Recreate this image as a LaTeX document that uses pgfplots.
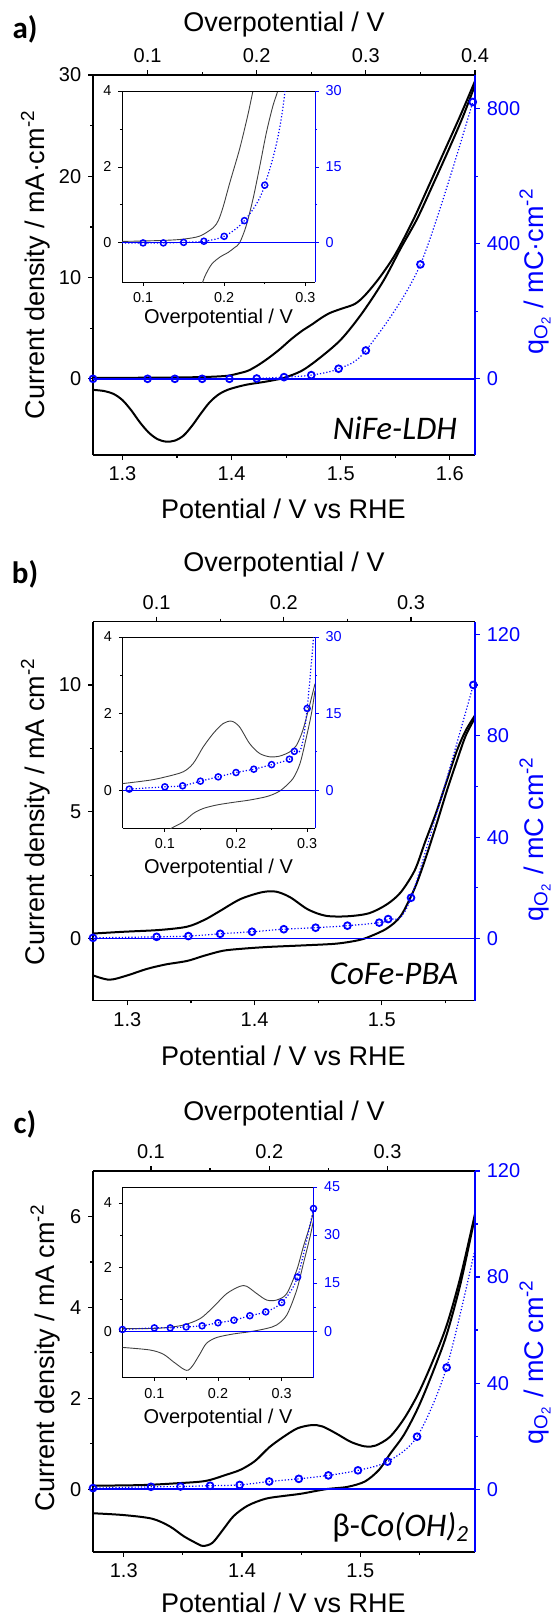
\documentclass[border=0pt]{standalone}
\usepackage{fontspec}
\setmainfont{Liberation Sans}
\newfontfamily\carlito{Carlito}
\usepackage{pgfplots}
\pgfplotsset{compat=1.18}
\pgfplotsset{
 common/.style={scale only axis, width=191pt, scaled ticks=false, /pgf/number format/assume math mode=true,
   tick align=outside, minor x tick num=1, minor y tick num=1, major tick length=2.4pt, minor tick length=1.4pt,
   tick label style={font=\fontsize{10}{12}\selectfont}, clip=true},
 mainax/.style={common, axis x line*=bottom, axis y line*=left, axis line style={line width=0.75pt},
   every tick/.append style={black, line width=0.6pt}, xtick={1.3,1.4,1.5,1.6}},
 secax/.style={common, axis x line*=top, axis y line*=right, x axis line style={black, line width=0.75pt},
   y axis line style={blue, line width=0.75pt}, xtick style={black,line width=0.6pt}, ytick style={blue,line width=0.6pt},
   yticklabel style={blue}},
 incommon/.style={scale only axis, scaled ticks=false, /pgf/number format/assume math mode=true,
   tick align=outside, minor x tick num=1, minor y tick num=1, major tick length=1.8pt, minor tick length=1.1pt,
   tick label style={font=\fontsize{7.2}{8.5}\selectfont}, clip=true, xtick={0.1,0.2,0.3}},
 inmain/.style={incommon, axis x line*=bottom, axis y line*=left, axis line style={line width=0.5pt},
   every tick/.append style={black,line width=0.45pt}, ytick={0,2,4}},
 insec/.style={incommon, axis x line*=top, axis y line*=right, xtick=\empty, x axis line style={black,line width=0.5pt},
   y axis line style={blue,line width=0.5pt}, ytick style={blue,line width=0.45pt}, yticklabel style={blue}},
 curve/.style={black, line width=1pt, smooth, no marks},
 incurve/.style={black!75, line width=0.45pt, smooth, no marks},
 qline/.style={blue, densely dotted, line width=0.6pt, smooth, no marks},
 qmarks/.style={blue, only marks, mark=o, mark size=1.7pt, mark options={solid, line width=0.9pt}},
 qmarksin/.style={blue, only marks, mark=o, mark size=1.5pt, mark options={solid, line width=0.75pt}},
 zline/.style={blue, line width=0.8pt, no marks},
 zlinein/.style={blue, line width=0.45pt, no marks},
}
\newcommand{\qlabel}[1]{q\textsubscript{O\textsubscript{2}} / mC#1cm\textsuperscript{-2}}
\tikzset{lab/.style={font=\fontsize{13.5}{16}\selectfont, inner sep=0pt},
  inlab/.style={font=\fontsize{10}{12}\selectfont, inner sep=0pt},
  plab/.style={font=\carlito\bfseries\fontsize{15.5}{18}\selectfont},
  sname/.style={font=\carlito\itshape\fontsize{16.5}{18}\selectfont}}
\begin{document}
\begin{tikzpicture}
\path[use as bounding box] (0,0) rectangle (278pt,-809pt);
%================ Panel a
\node[plab] at (12.5pt,-14.5pt) {a)};
\node[lab] at (142pt,-12.5pt) {Overpotential / V};
\node[lab] at (141.7pt,-254.3pt) {Potential / V vs RHE};
\node[lab, rotate=90] at (17.75pt,-132.3pt) {Current density / mA·cm\textsuperscript{-2}};
\node[lab, rotate=90, blue] at (267.5pt,-135.75pt) {\qlabel{·}};
\node[inlab] at (109.25pt,-159pt) {Overpotential / V};
\begin{axis}[mainax, at={(46.5pt,-37.5pt)}, anchor=north west, height=190pt,
  xmin=1.273, xmax=1.623, ymin=-7.52, ymax=30, ytick={0,10,20,30}]
\addplot[curve] coordinates {(1.273,0.1)(1.30,0.1)(1.33,0.12)(1.36,0.15)(1.38,0.2)(1.396,0.3)(1.405,0.5)(1.415,0.8)(1.425,1.4)(1.435,2.15)(1.445,3.0)(1.454,3.86)(1.464,4.7)(1.474,5.4)(1.482,6.0)(1.49,6.5)(1.50,6.9)(1.513,7.4)(1.5226,8.3)(1.5356,10.0)(1.55,12.3)(1.566,15.6)(1.58,18.9)(1.595,22.5)(1.61,26.1)(1.623,29.4)};
\addplot[curve] coordinates {(1.273,-1.09)(1.283,-1.2)(1.292,-1.5)(1.30,-2.1)(1.308,-3.1)(1.316,-4.3)(1.324,-5.3)(1.332,-5.95)(1.34,-6.2)(1.348,-6.1)(1.356,-5.6)(1.364,-4.6)(1.372,-3.4)(1.38,-2.3)(1.388,-1.55)(1.396,-1.1)(1.405,-0.8)(1.415,-0.55)(1.43,-0.3)(1.44,-0.1)(1.448,0.1)(1.464,0.78)(1.48,2.0)(1.50,3.86)(1.519,6.4)(1.539,9.66)(1.555,12.9)(1.570,15.8)(1.585,19.3)(1.60,22.9)(1.612,25.9)(1.623,29.0)};
\end{axis}
\begin{axis}[secax, at={(46.5pt,-37.5pt)}, anchor=north west, height=190pt,
  xmin=0.05, xmax=0.4, ymin=-225.6, ymax=900, xtick={0.1,0.2,0.3,0.4}, ytick={0,400,800}]
\addplot[zline] coordinates {(0,0)(1,0)};
\addplot[qline] coordinates {(0.05,0)(0.1,0)(0.125,0)(0.15,0)(0.175,0)(0.2,1)(0.225,5)(0.25,11)(0.275,30)(0.3,84)(0.35,339)(0.398,820)};
\addplot[qmarks] coordinates {(0.05,0)(0.1,0)(0.125,0)(0.15,0)(0.175,0)(0.2,1)(0.225,5)(0.25,11)(0.275,30)(0.3,84)(0.35,339)(0.398,820)};
\end{axis}
\begin{axis}[inmain, at={(61pt,-45.5pt)}, anchor=north west, width=96.5pt, height=95.5pt,
  xmin=0.074, xmax=0.312, ymin=-1.03, ymax=4]
\addplot[incurve] coordinates {(0.05,0.04)(0.074,0.04)(0.10,0.05)(0.13,0.07)(0.15,0.1)(0.17,0.18)(0.1865,0.4)(0.193,0.6)(0.199,0.97)(0.207,1.59)(0.219,2.47)(0.229,3.35)(0.2355,4.0)(0.24,4.4)};
\addplot[incurve] coordinates {(0.168,-1.4)(0.174,-1.0)(0.178,-0.8)(0.185,-0.55)(0.195,-0.37)(0.205,-0.25)(0.213,-0.12)(0.219,0.0)(0.227,0.44)(0.2355,1.15)(0.244,2.03)(0.252,2.9)(0.26,3.6)(0.266,4.0)(0.27,4.4)};
\end{axis}
\begin{axis}[insec, at={(61pt,-45.5pt)}, anchor=north west, width=96.5pt, height=95.5pt,
  xmin=0.074, xmax=0.312, ymin=-7.72, ymax=30, ytick={0,15,30}]
\addplot[zlinein] coordinates {(0,0)(1,0)};
\addplot[qline] coordinates {(0.05,0)(0.1,0)(0.125,0)(0.15,0.1)(0.175,0.33)(0.2,1.3)(0.225,4.4)(0.25,11.4)(0.275,30)(0.3,84)};
\addplot[qmarksin] coordinates {(0.1,0)(0.125,0)(0.15,0.1)(0.175,0.33)(0.2,1.3)(0.225,4.4)(0.25,11.4)};
\end{axis}
\node[sname] at (197.5pt,-214pt) {NiFe-LDH};
%================ Panel b
\node[plab] at (12.5pt,-287pt) {b)};
\node[lab] at (142pt,-282.25pt) {Overpotential / V};
\node[lab] at (141.7pt,-527.75pt) {Potential / V vs RHE};
\node[lab, rotate=90] at (17.75pt,-405.75pt) {Current density / mA cm\textsuperscript{-2}};
\node[lab, rotate=90, blue] at (267.5pt,-419.5pt) {\qlabel{ }};
\node[inlab] at (109.25pt,-434pt) {Overpotential / V};
\begin{axis}[mainax, at={(46.5pt,-310.75pt)}, anchor=north west, height=189.5pt,
  xmin=1.273, xmax=1.5733, ymin=-2.44, ymax=12.5, ytick={0,5,10}]
\addplot[curve] coordinates {(1.273,0.2)(1.297,0.27)(1.325,0.34)(1.347,0.47)(1.361,0.75)(1.3725,1.08)(1.389,1.56)(1.406,1.83)(1.417,1.85)(1.428,1.63)(1.442,1.15)(1.456,0.9)(1.473,0.88)(1.49,1.0)(1.504,1.35)(1.515,1.83)(1.526,2.7)(1.534,3.8)(1.543,5.0)(1.551,6.2)(1.559,7.4)(1.566,8.2)(1.5733,8.8)};
\addplot[curve] coordinates {(1.273,-1.45)(1.286,-1.62)(1.30,-1.45)(1.315,-1.2)(1.33,-1.02)(1.347,-0.88)(1.36,-0.68)(1.375,-0.48)(1.39,-0.4)(1.41,-0.33)(1.437,-0.27)(1.464,-0.2)(1.481,-0.07)(1.49,0.07)(1.504,0.4)(1.515,0.9)(1.526,2.0)(1.534,3.1)(1.543,4.5)(1.551,5.8)(1.559,7.0)(1.566,8.0)(1.5733,8.7)};
\end{axis}
\begin{axis}[secax, at={(46.5pt,-310.75pt)}, anchor=north west, height=189.5pt,
  xmin=0.05, xmax=0.3503, ymin=-24.4, ymax=125, xtick={0.1,0.2,0.3}, ytick={0,40,80,120}]
\addplot[zline] coordinates {(0,0)(1,0)};
\addplot[qline] coordinates {(0.05,0.3)(0.1,0.7)(0.125,1.0)(0.15,1.9)(0.175,2.7)(0.2,3.7)(0.225,4.3)(0.25,5.1)(0.275,6.3)(0.282,7.7)(0.3,16.1)(0.349,100)};
\addplot[qmarks] coordinates {(0.05,0.3)(0.1,0.7)(0.125,1.0)(0.15,1.9)(0.175,2.7)(0.2,3.7)(0.225,4.3)(0.25,5.1)(0.275,6.3)(0.282,7.7)(0.3,16.1)(0.349,100)};
\end{axis}
\begin{axis}[inmain, at={(61.25pt,-318.5pt)}, anchor=north west, width=96.25pt, height=95.5pt,
  xmin=0.0405, xmax=0.311, ymin=-0.99, ymax=4]
\addplot[incurve] coordinates {(0.0405,0.17)(0.079,0.26)(0.102,0.35)(0.126,0.48)(0.14,0.7)(0.154,1.13)(0.168,1.48)(0.182,1.74)(0.194,1.8)(0.205,1.65)(0.219,1.22)(0.233,0.96)(0.2475,0.87)(0.2616,0.89)(0.2756,1.0)(0.285,1.17)(0.294,1.57)(0.304,2.26)(0.311,2.78)};
\addplot[incurve] coordinates {(0.1,-1.15)(0.109,-1.0)(0.126,-0.83)(0.14,-0.61)(0.154,-0.48)(0.1726,-0.39)(0.196,-0.32)(0.219,-0.26)(0.243,-0.17)(0.257,-0.07)(0.266,0.04)(0.28,0.3)(0.29,0.7)(0.299,1.39)(0.306,2.0)(0.311,2.6)};
\end{axis}
\begin{axis}[insec, at={(61.25pt,-318.5pt)}, anchor=north west, width=96.25pt, height=95.5pt,
  xmin=0.0405, xmax=0.311, ymin=-7.42, ymax=30, ytick={0,15,30}]
\addplot[zlinein] coordinates {(0,0)(1,0)};
\addplot[qline] coordinates {(0.05,0.2)(0.1,0.65)(0.125,0.85)(0.15,1.76)(0.175,2.6)(0.2,3.45)(0.225,4.1)(0.25,5.0)(0.275,6.06)(0.282,7.6)(0.3,16.0)(0.35,100)};
\addplot[qmarksin] coordinates {(0.05,0.2)(0.1,0.65)(0.125,0.85)(0.15,1.76)(0.175,2.6)(0.2,3.45)(0.225,4.1)(0.25,5.0)(0.275,6.06)(0.282,7.6)(0.3,16.0)};
\end{axis}
\node[sname] at (197pt,-486.9pt) {CoFe-PBA};
%================ Panel c
\node[plab] at (12.5pt,-562.4pt) {c)};
\node[lab] at (142pt,-557pt) {Overpotential / V};
\node[lab] at (141.7pt,-801.5pt) {Potential / V vs RHE};
\node[lab, rotate=90] at (22.5pt,-679pt) {Current density / mA cm\textsuperscript{-2}};
\node[lab, rotate=90, blue] at (267.5pt,-681pt) {\qlabel{ }};
\node[inlab] at (109pt,-709.3pt) {Overpotential / V};
\begin{axis}[mainax, at={(46.5pt,-585.5pt)}, anchor=north west, height=190.5pt,
  xmin=1.274, xmax=1.597, ymin=-1.383, ymax=7.0, ytick={0,2,4,6}]
\addplot[curve] coordinates {(1.274,0.076)(1.315,0.09)(1.345,0.13)(1.369,0.18)(1.387,0.32)(1.399,0.43)(1.411,0.62)(1.423,0.92)(1.435,1.15)(1.447,1.34)(1.459,1.41)(1.468,1.38)(1.48,1.22)(1.492,1.04)(1.504,0.94)(1.513,0.96)(1.525,1.15)(1.537,1.55)(1.549,2.1)(1.561,2.8)(1.573,3.6)(1.585,4.7)(1.597,6.06)};
\addplot[curve] coordinates {(1.274,-0.53)(1.3,-0.57)(1.324,-0.65)(1.339,-0.82)(1.351,-1.04)(1.363,-1.21)(1.3675,-1.25)(1.375,-1.18)(1.384,-0.89)(1.393,-0.59)(1.405,-0.36)(1.42,-0.21)(1.435,-0.15)(1.45,-0.1)(1.471,0)(1.489,0.05)(1.504,0.17)(1.516,0.43)(1.525,0.77)(1.537,1.2)(1.549,1.8)(1.561,2.55)(1.573,3.4)(1.585,4.55)(1.597,6.0)};
\end{axis}
\begin{axis}[secax, at={(46.5pt,-585.5pt)}, anchor=north west, height=190.5pt,
  xmin=0.051, xmax=0.374, ymin=-23.7, ymax=120, xtick={0.1,0.2,0.3}, ytick={0,40,80,120}]
\addplot[zline] coordinates {(0,0)(1,0)};
\addplot[qline] coordinates {(0.051,0.4)(0.1,0.9)(0.125,1.0)(0.15,1.3)(0.175,1.6)(0.2,2.9)(0.225,3.9)(0.25,5.2)(0.275,7.1)(0.3,10.4)(0.325,19.8)(0.35,45.9)(0.374,90.5)};
\addplot[qmarks] coordinates {(0.051,0.4)(0.1,0.9)(0.125,1.0)(0.15,1.3)(0.175,1.6)(0.2,2.9)(0.225,3.9)(0.25,5.2)(0.275,7.1)(0.3,10.4)(0.325,19.8)(0.35,45.9)};
\end{axis}
\begin{axis}[inmain, at={(61.25pt,-593.5pt)}, anchor=north west, width=95.5pt, height=95.25pt,
  xmin=0.05, xmax=0.35, ymin=-1.45, ymax=4.5]
\addplot[incurve] coordinates {(0.05,0.08)(0.093,0.08)(0.119,0.11)(0.146,0.19)(0.172,0.39)(0.193,0.76)(0.2136,1.17)(0.2346,1.4)(0.245,1.4)(0.261,1.17)(0.2764,0.97)(0.292,0.97)(0.3079,1.17)(0.3236,1.9)(0.334,2.63)(0.3445,3.3)(0.35,3.72)};
\addplot[incurve] coordinates {(0.05,-0.51)(0.093,-0.59)(0.114,-0.72)(0.13,-0.96)(0.146,-1.19)(0.1534,-1.22)(0.161,-1.06)(0.172,-0.7)(0.182,-0.38)(0.198,-0.2)(0.224,-0.09)(0.25,-0.02)(0.276,0.08)(0.292,0.19)(0.308,0.5)(0.3236,1.28)(0.334,2.1)(0.3445,2.94)(0.35,3.46)};
\end{axis}
\begin{axis}[insec, at={(61.25pt,-593.5pt)}, anchor=north west, width=95.5pt, height=95.25pt,
  xmin=0.05, xmax=0.35, ymin=-14.5, ymax=45, ytick={0,15,30,45}]
\addplot[zlinein] coordinates {(0,0)(1,0)};
\addplot[qline] coordinates {(0.05,0.5)(0.1,1.0)(0.125,1.0)(0.15,1.3)(0.175,1.65)(0.2,2.6)(0.225,3.4)(0.25,4.8)(0.275,6.0)(0.3,8.9)(0.325,16.9)(0.35,38.3)};
\addplot[qmarksin] coordinates {(0.05,0.5)(0.1,1.0)(0.125,1.0)(0.15,1.3)(0.175,1.65)(0.2,2.6)(0.225,3.4)(0.25,4.8)(0.275,6.0)(0.3,8.9)(0.325,16.9)(0.35,38.3)};
\end{axis}
\node[font=\carlito\fontsize{16.5}{18}\selectfont] at (200.4pt,-763.4pt) {β-\itshape Co(OH)\textsubscript{2}};
\end{tikzpicture}
\end{document}
